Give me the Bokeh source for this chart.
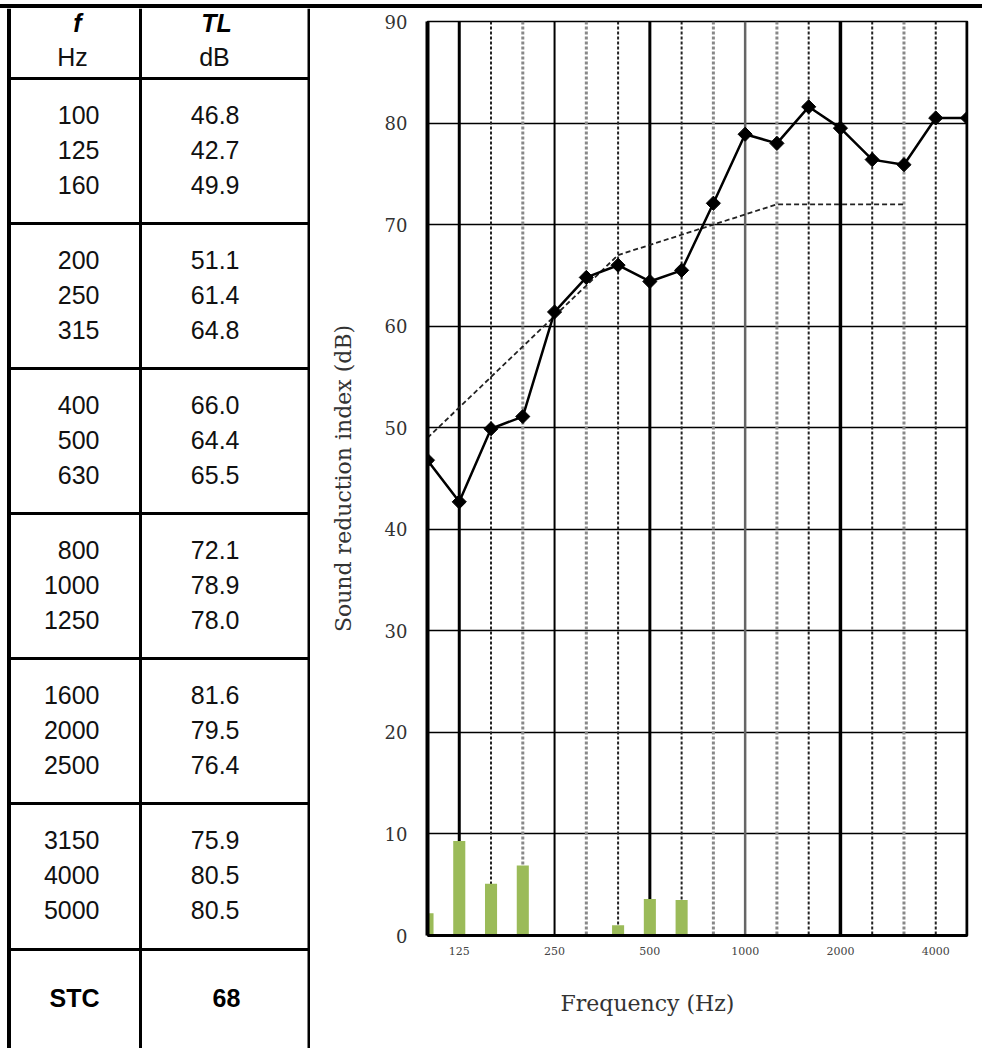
from bokeh.plotting import figure
from bokeh.models import Range1d, FixedTicker, Span, Title, Div
from bokeh.layouts import row, column
from bokeh.embed import file_html
from bokeh.resources import INLINE
from bokeh.core.properties import value

# ---------------- data ----------------
freq_labels = ["100", "125", "160", "200", "250", "315", "400", "500", "630",
               "800", "1000", "1250", "1600", "2000", "2500", "3150", "4000", "5000"]
tl_db = [46.8, 42.7, 49.9, 51.1, 61.4, 64.8, 66.0, 64.4, 65.5,
         72.1, 78.9, 78.0, 81.6, 79.5, 76.4, 75.9, 80.5, 80.5]
# STC reference contour (100 .. 4000 Hz)
contour_db = [49, 52, 55, 58, 61, 64, 67, 68, 69, 70, 71, 72, 72, 72, 72, 72]
# deficiencies (green bars), 100 .. 5000 Hz
deficiency_db = [2.2, 9.3, 5.1, 6.9, 0.0, 0.0, 1.0, 3.6, 3.5,
                 0.0, 0.0, 0.0, 0.0, 0.0, 0.0, 0.0, 0.0, 0.0]
stc_value = 68
x_tick_labels = {1: "125", 4: "250", 7: "500", 10: "1000", 13: "2000", 16: "4000"}
y_ticks = [0, 10, 20, 30, 40, 50, 60, 70, 80, 90]

H = 1040
band_idx = list(range(len(freq_labels)))

# ---------------- left table ----------------
tbl = figure(width=310, height=H, x_range=Range1d(0, 310), y_range=Range1d(1048, 8),
             output_backend="svg", toolbar_location=None,
             x_axis_location=None, y_axis_location=None, min_border=0)
tbl.frame_align = False
tbl.outline_line_color = None
tbl.background_fill_color = "white"
tbl.border_fill_color = "white"
tbl.xgrid.visible = False
tbl.ygrid.visible = False
tbl.grid.visible = False

dividers = [78, 223, 368, 513, 658, 803, 949]
tbl.segment(x0=[8.5], y0=[8], x1=[8.5], y1=[1048], line_color="black", line_width=4)
tbl.segment(x0=[140], y0=[8], x1=[140], y1=[1048], line_color="black", line_width=3)
tbl.segment(x0=[308.5], y0=[8], x1=[308.5], y1=[1048], line_color="black", line_width=3)
tbl.segment(x0=[8] * len(dividers), y0=dividers, x1=[310] * len(dividers), y1=dividers,
            line_color="black", line_width=3)

row_y = []
for g in range(6):
    for k in range(3):
        row_y.append(dividers[g] + 36 + k * 35)

tbl.text(x=[99] * 18, y=row_y, text=freq_labels, text_align="right", text_baseline="middle",
         text_font=value("Liberation Sans"), text_font_size="25px", text_color="#111")
tbl.text(x=[239] * 18, y=row_y, text=[f"{v:.1f}" for v in tl_db], text_align="right",
         text_baseline="middle", text_font=value("Liberation Sans"), text_font_size="25px",
         text_color="#111")
tbl.text(x=[77, 216], y=[22, 22], text=["f", "TL"], text_align="center", text_baseline="middle",
         text_font=value("Liberation Sans"), text_font_size="25px", text_font_style="bold italic",
         text_color="black")
tbl.text(x=[72, 214], y=[56, 56], text=["Hz", "dB"], text_align="center", text_baseline="middle",
         text_font=value("Liberation Sans"), text_font_size="25px", text_color="#111")
tbl.text(x=[74, 226], y=[997, 997], text=["STC", str(stc_value)], text_align="center",
         text_baseline="middle", text_font=value("Liberation Sans"), text_font_size="25px",
         text_font_style="bold", text_color="black")

# ---------------- chart ----------------
p = figure(width=672, height=H, x_range=Range1d(0, 17), y_range=Range1d(0, 90),
           output_backend="svg", toolbar_location=None,
           min_border_left=117, min_border_right=15, min_border_top=13, min_border_bottom=113)
p.frame_align = False
p.background_fill_color = "white"
p.border_fill_color = "white"
p.outline_line_color = "black"
p.outline_line_width = 1.5

p.xgrid.visible = False
p.ygrid.ticker = FixedTicker(ticks=y_ticks[1:-1])
p.ygrid.grid_line_color = "black"
p.ygrid.grid_line_width = 1.5
p.ygrid.grid_line_alpha = 1.0

# vertical band lines
v_styles = {
    1: ("solid", "black", 3), 4: ("solid", "black", 2), 7: ("solid", "black", 3),
    10: ("solid", "#666666", 2.5), 13: ("solid", "black", 3.5),
}
for i in range(1, 17):
    if i in v_styles:
        dash, col, w = v_styles[i]
    else:
        dash = "3 2"
        col, w = ("#222222", 2) if i % 2 == 0 else ("#888888", 3)
    p.add_layout(Span(location=i, dimension="height", line_color=col, line_width=w,
                      line_dash=dash, level="underlay"))
p.add_layout(Span(location=17, dimension="height", line_color="black", line_width=4))

# green deficiency bars
p.vbar(x=band_idx, top=deficiency_db, bottom=0, width=0.38, fill_color="#9BBB59",
       line_color=None)

# reference contour
p.line(x=band_idx[:len(contour_db)], y=contour_db, line_color="#222222", line_width=1.8,
       line_dash="5 3")

# measured curve
p.line(x=band_idx, y=tl_db, line_color="black", line_width=2.5)
p.scatter(x=band_idx, y=tl_db, marker="square", angle=0.785, size=10,
          fill_color="black", line_color="black")

# axes
p.yaxis.ticker = FixedTicker(ticks=y_ticks)
p.yaxis.axis_line_width = 4
p.yaxis.major_tick_line_color = None
p.yaxis.minor_tick_line_color = None
p.yaxis.major_label_standoff = 14
p.yaxis.major_label_text_font = "DejaVu Serif"
p.yaxis.major_label_text_font_size = "18px"
p.yaxis.major_label_text_color = "#333"
p.yaxis.axis_label = "Sound reduction index (dB)"
p.yaxis.axis_label_text_font = "DejaVu Serif"
p.yaxis.axis_label_text_font_style = "normal"
p.yaxis.axis_label_text_font_size = "22px"
p.yaxis.axis_label_text_color = "#333"
p.yaxis.axis_label_standoff = 26

p.xaxis.ticker = FixedTicker(ticks=list(x_tick_labels.keys()))
p.xaxis.major_label_overrides = x_tick_labels
p.xaxis.axis_line_width = 3
p.xaxis.major_tick_line_color = None
p.xaxis.minor_tick_line_color = None
p.xaxis.major_label_standoff = 5
p.xaxis.major_label_text_font = "DejaVu Serif"
p.xaxis.major_label_text_font_size = "11px"
p.xaxis.major_label_text_color = "#444"

p.add_layout(Title(text="Frequency (Hz)", align="left", offset=133, standoff=62,
                   text_font="DejaVu Serif", text_font_size="22px",
                   text_font_style="normal", text_color="#333"), "below")

top_rule = Div(text="", width=982, height=4, margin=(4, 0, 0, 0),
               styles={"background-color": "black"})
layout = column(top_rule, row(tbl, p, spacing=0), spacing=0)

open("out.html", "w").write(file_html(layout, INLINE))
